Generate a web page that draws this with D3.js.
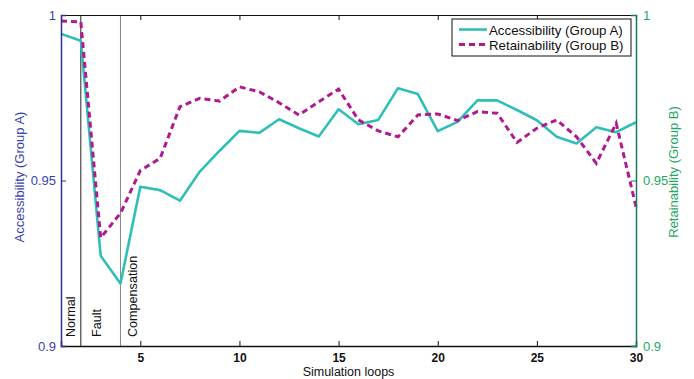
<!DOCTYPE html>
<html>
<head>
<meta charset="utf-8">
<script src="https://cdn.jsdelivr.net/npm/d3@7"></script>
<style>
  html, body { margin: 0; padding: 0; background: #fff; }
  svg { display: block; font-family: "Liberation Sans", Arial, sans-serif; }
</style>
</head>
<body>
<svg id="chart" width="694" height="379"></svg>
<script>
// Simulation loop index
const loops = d3.range(1, 31);

// Accessibility (Group A), left axis
const accessibility = [
  0.9943, 0.9922, 0.9273, 0.9189, 0.9481, 0.9471, 0.9439, 0.9527, 0.9590, 0.9650,
  0.9644, 0.9685, 0.9658, 0.9633, 0.9715, 0.9670, 0.9683, 0.9779, 0.9761, 0.9649,
  0.9677, 0.9742, 0.9742, 0.9713, 0.9682, 0.9632, 0.9612, 0.9661, 0.9646, 0.9676
];

// Retainability (Group B), right axis
const retainability = [
  0.9982, 0.9979, 0.9327, 0.9401, 0.9530, 0.9567, 0.9723, 0.9748, 0.9740, 0.9783,
  0.9768, 0.9735, 0.9698, 0.9738, 0.9776, 0.9683, 0.9650, 0.9632, 0.9698, 0.9701,
  0.9681, 0.9708, 0.9703, 0.9615, 0.9658, 0.9683, 0.9632, 0.9552, 0.9673, 0.9421
];

const xTicks = [5, 10, 15, 20, 25, 30];
const yTicks = [0.9, 0.95, 1];
const yTickLabels = ["0.9", "0.95", "1"];

// Phase markers along the loop axis
const phases = [
  { label: "Normal", start: 1 },
  { label: "Fault", start: 2 },
  { label: "Compensation", start: 4 }
];
// Horizontal offset of each phase label from its boundary (px)
const phaseLabelOffset = [14, 20, 17];

const seriesNames = ["Accessibility (Group A)", "Retainability (Group B)"];

const colA = "#2fbfb6";
const colB = "#b01a8e";
const leftAxisCol = "#2e3192";
const leftTextCol = "#3c3fae";
const rightAxisCol = "#1b7a5c";
const rightTextCol = "#1fa862";

const margin = { left: 61, right: 58, top: 15, bottom: 33 };
const W = 694, H = 379;
const x0 = margin.left, x1 = W - margin.right;
const y0 = H - margin.bottom, y1 = margin.top;

const x = d3.scaleLinear().domain([1, 30]).range([x0, x1]);
const yL = d3.scaleLinear().domain([0.9, 1]).range([y0, y1]);
const yR = d3.scaleLinear().domain([0.9, 1]).range([y0, y1]);

const svg = d3.select("#chart");

// Phase boundary lines and rotated labels
phases.slice(1).forEach((p, i) => {
  svg.append("line")
    .attr("x1", x(p.start)).attr("x2", x(p.start))
    .attr("y1", y1).attr("y2", y0)
    .attr("stroke", i === 0 ? "#222" : "#888")
    .attr("stroke-width", 1);
});
phases.forEach((p, i) => {
  const lx = x(p.start) + phaseLabelOffset[i];
  svg.append("text")
    .attr("transform", `translate(${lx},${y0 - 9}) rotate(-90)`)
    .attr("font-size", 12.6)
    .attr("fill", "#111")
    .text(p.label);
});

// Series lines
const lineA = d3.line().x((d, i) => x(loops[i])).y(d => yL(d));
const lineB = d3.line().x((d, i) => x(loops[i])).y(d => yR(d));

svg.append("path")
  .datum(accessibility)
  .attr("d", lineA)
  .attr("fill", "none")
  .attr("stroke", colA)
  .attr("stroke-width", 2.6)
  .attr("stroke-linejoin", "round");

svg.append("path")
  .datum(retainability)
  .attr("d", lineB)
  .attr("fill", "none")
  .attr("stroke", colB)
  .attr("stroke-width", 3)
  .attr("stroke-dasharray", "6,4");

// Bottom axis
const axBottom = svg.append("g").attr("transform", `translate(0,${y0})`)
  .call(d3.axisBottom(x).tickValues(xTicks).tickSize(-5).tickPadding(7));
axBottom.select(".domain").attr("stroke", "#111").attr("stroke-width", 1.5);
axBottom.selectAll(".tick line").attr("stroke", "#111");
axBottom.selectAll(".tick text").attr("font-size", 12).attr("fill", "#111")
  .attr("font-weight", "bold")
  .attr("font-family", "Liberation Sans, Arial, sans-serif");

// Top axis
const axTop = svg.append("g").attr("transform", `translate(0,${y1})`)
  .call(d3.axisTop(x).tickValues(xTicks).tickSize(-5).tickFormat(""));
axTop.select(".domain").attr("stroke", "#111").attr("stroke-width", 1.2);
axTop.selectAll(".tick line").attr("stroke", "#111");

// Left axis
const axLeft = svg.append("g").attr("transform", `translate(${x0},0)`)
  .call(d3.axisLeft(yL).tickValues(yTicks).tickSize(-5).tickPadding(5)
    .tickFormat((d, i) => yTickLabels[i]));
axLeft.select(".domain").attr("stroke", leftAxisCol).attr("stroke-width", 1.5);
axLeft.selectAll(".tick line").attr("stroke", leftAxisCol);
axLeft.selectAll(".tick text").attr("font-size", 13).attr("fill", leftTextCol)
  .attr("font-family", "Liberation Sans, Arial, sans-serif");

// Right axis
const axRight = svg.append("g").attr("transform", `translate(${x1},0)`)
  .call(d3.axisRight(yR).tickValues(yTicks).tickSize(-5).tickPadding(7)
    .tickFormat((d, i) => yTickLabels[i]));
axRight.select(".domain").attr("stroke", rightAxisCol).attr("stroke-width", 1.5);
axRight.selectAll(".tick line").attr("stroke", rightAxisCol);
axRight.selectAll(".tick text").attr("font-size", 13).attr("fill", rightTextCol)
  .attr("font-family", "Liberation Sans, Arial, sans-serif");

// Axis titles
svg.append("text")
  .attr("transform", `translate(24,177) rotate(-90)`)
  .attr("text-anchor", "middle")
  .attr("font-size", 13)
  .attr("fill", leftTextCol)
  .text(seriesNames[0]);

svg.append("text")
  .attr("transform", `translate(678,172) rotate(-90)`)
  .attr("text-anchor", "middle")
  .attr("font-size", 13)
  .attr("fill", rightTextCol)
  .text(seriesNames[1]);

svg.append("text")
  .attr("x", (x0 + x1) / 2)
  .attr("y", 376)
  .attr("text-anchor", "middle")
  .attr("font-size", 12.5)
  .attr("fill", "#111")
  .text("Simulation loops");

// Legend
const lg = svg.append("g").attr("transform", "translate(452,19)");
lg.append("rect")
  .attr("width", 179).attr("height", 37)
  .attr("fill", "#fff").attr("stroke", "#111").attr("stroke-width", 1);
const legendItems = [
  { name: seriesNames[0], color: colA, dash: null, w: 2.6 },
  { name: seriesNames[1], color: colB, dash: "6,4", w: 3 }
];
legendItems.forEach((d, i) => {
  const yy = 10.5 + i * 15;
  lg.append("line")
    .attr("x1", 7).attr("x2", 35).attr("y1", yy).attr("y2", yy)
    .attr("stroke", d.color).attr("stroke-width", d.w)
    .attr("stroke-dasharray", d.dash);
  lg.append("text")
    .attr("x", 37).attr("y", yy + 5)
    .attr("font-size", 13.3)
    .attr("fill", "#111")
    .text(d.name);
});
</script>
</body>
</html>
